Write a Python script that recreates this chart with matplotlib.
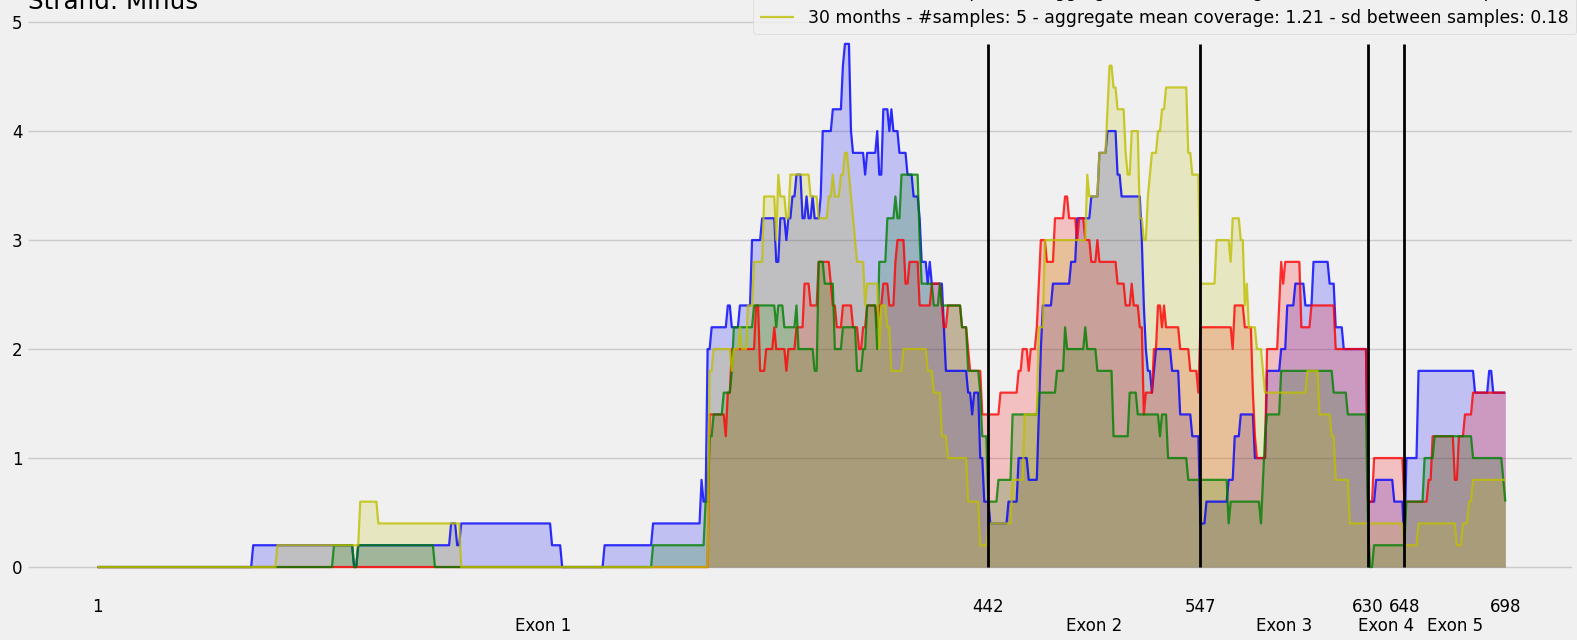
import matplotlib
matplotlib.use('Agg')
import matplotlib.pyplot as plt

# ---------------- data (coverage runs: start position -> mean coverage) -------------
last_pos = 698

blue_start = [1, 78, 128, 130, 176, 179, 181, 226, 231, 252, 276, 300, 301, 303, 305, 313, 315, 319, 325, 330,
              337, 339, 342, 343, 345, 347, 350, 352, 353, 355, 356, 359, 360, 365, 370, 371, 374, 375, 381, 382,
              387, 388, 390, 393, 394, 395, 398, 402, 405, 408, 409, 412, 413, 414, 420, 421, 432, 434, 435, 438,
              440, 443, 452, 457, 462, 467, 468, 469, 474, 483, 486, 493, 497, 501, 506, 508, 518, 519, 520, 521,
              523, 524, 525, 533, 537, 543, 547, 550, 561, 564, 567, 574, 580, 587, 590, 594, 599, 603, 611, 614,
              618, 630, 634, 643, 648, 649, 655, 683, 690, 692]
blue_cov = [0, 0.2, 0, 0.2, 0.4, 0.2, 0.4, 0.2, 0, 0.2, 0.4, 0.8, 0.6, 2.0, 2.2, 2.4, 2.2, 2.4, 3.0, 3.2,
            2.8, 3.2, 3.0, 3.2, 3.4, 3.6, 3.2, 3.4, 3.2, 3.4, 3.2, 3.4, 4.0, 4.2, 4.6, 4.8, 4.0, 3.8, 3.6, 3.8,
            4.0, 3.6, 4.2, 4.0, 4.2, 4.0, 3.8, 3.6, 3.4, 3.2, 2.8, 2.6, 2.8, 2.6, 2.2, 1.8, 1.6, 1.4, 1.6, 1.0,
            0.6, 0.4, 0.6, 1.0, 0.8, 1.4, 2.0, 2.4, 2.6, 2.8, 3.2, 3.4, 3.8, 4.0, 3.6, 3.4, 3.0, 2.4, 2.0, 1.8,
            1.6, 1.8, 2.0, 1.8, 1.4, 1.2, 0.4, 0.6, 0.8, 1.2, 1.4, 1.0, 1.8, 2.0, 2.4, 2.6, 2.4, 2.8, 2.6, 2.2,
            2.0, 0.6, 0.8, 0.6, 0.2, 1.0, 1.8, 1.6, 1.8, 1.6]

red_start = [1, 304, 312, 313, 315, 327, 329, 332, 336, 337, 342, 343, 347, 351, 354, 358, 364, 365, 367, 370,
             375, 378, 380, 382, 387, 388, 390, 393, 396, 397, 401, 403, 408, 414, 419, 420, 422, 429, 432, 433,
             439, 448, 457, 459, 462, 463, 466, 467, 468, 471, 475, 480, 482, 486, 487, 490, 493, 496, 497, 506,
             510, 513, 514, 517, 519, 520, 524, 526, 528, 529, 530, 537, 542, 546, 547, 563, 564, 569, 573, 574,
             575, 580, 586, 587, 588, 589, 597, 602, 614, 630, 633, 648, 660, 662, 673, 675, 678, 682]
red_cov = [0, 1.4, 1.2, 1.6, 2.0, 2.4, 1.8, 2.0, 2.2, 2.0, 1.8, 2.0, 2.2, 2.6, 2.4, 2.8, 2.6, 2.4, 2.2, 2.4,
           2.2, 2.0, 2.2, 2.4, 2.2, 2.4, 2.6, 2.4, 2.8, 3.0, 2.6, 2.8, 2.4, 2.6, 2.4, 2.2, 2.4, 2.2, 2.0, 1.8,
           1.4, 1.6, 1.8, 2.0, 1.8, 2.0, 2.2, 2.6, 3.0, 2.8, 3.2, 3.4, 3.2, 3.0, 3.2, 3.0, 2.8, 3.0, 2.8, 2.6,
           2.4, 2.6, 2.4, 2.2, 1.4, 1.6, 2.0, 2.4, 2.2, 2.4, 2.2, 2.0, 1.8, 1.6, 2.2, 2.0, 2.4, 2.2, 1.6, 1.2,
           1.0, 2.0, 2.4, 2.8, 2.6, 2.8, 2.2, 2.4, 2.0, 0.6, 1.0, 0.6, 0.8, 1.2, 0.8, 1.2, 1.4, 1.6]

green_start = [1, 118, 128, 130, 168, 276, 302, 304, 306, 311, 315, 316, 326, 337, 338, 341, 347, 348, 356, 358,
               361, 366, 370, 377, 380, 382, 387, 388, 392, 396, 397, 399, 408, 409, 415, 418, 419, 429, 432, 438,
               439, 442, 447, 454, 467, 476, 480, 481, 490, 491, 496, 504, 512, 516, 527, 528, 531, 541, 561, 562,
               577, 578, 579, 580, 587, 613, 620, 630, 631, 633, 649, 658, 663, 682, 697, 698]
green_cov = [0, 0.2, 0, 0.2, 0, 0.2, 0.6, 1.2, 1.4, 1.6, 1.8, 2.2, 2.4, 2.2, 2.4, 2.2, 2.4, 2.0, 1.8, 2.8,
             2.6, 2.0, 2.2, 1.8, 2.0, 2.4, 2.0, 2.8, 3.2, 3.4, 3.2, 3.6, 3.0, 2.6, 2.4, 2.6, 2.4, 2.2, 1.8, 1.6,
             1.2, 0.6, 0.8, 1.4, 1.6, 1.8, 2.2, 2.0, 2.2, 2.0, 1.8, 1.2, 1.6, 1.4, 1.2, 1.4, 1.0, 0.8, 0.4, 0.6,
             0.4, 0.8, 1.2, 1.4, 1.8, 1.6, 1.4, 0.4, 0.0, 0.2, 0.6, 1.0, 1.2, 1.0, 0.8, 0.6]

yellow_start = [1, 90, 131, 140, 181, 304, 306, 315, 316, 319, 320, 323, 326, 331, 337, 338, 339, 342, 344, 354,
                358, 363, 365, 366, 369, 371, 373, 374, 375, 376, 377, 381, 382, 388, 389, 392, 394, 400, 412, 415,
                419, 422, 432, 438, 442, 454, 460, 467, 470, 491, 492, 497, 501, 502, 504, 506, 510, 511, 513, 517,
                519, 521, 522, 523, 526, 528, 530, 541, 543, 547, 555, 562, 563, 567, 569, 570, 571, 575, 578, 579,
                600, 606, 612, 614, 621, 648, 655, 674, 677, 680, 682]
yellow_cov = [0, 0.2, 0.6, 0.4, 0, 1.8, 2.0, 1.8, 2.0, 2.2, 2.0, 2.4, 2.8, 3.4, 3.0, 3.6, 3.4, 3.2, 3.6, 3.4,
              3.2, 3.4, 3.6, 3.4, 3.6, 3.8, 3.6, 3.4, 3.2, 3.0, 2.8, 2.4, 2.6, 2.0, 2.4, 2.2, 1.8, 2.0, 1.8, 1.6,
              1.2, 1.0, 0.6, 0.2, 0.4, 0.8, 1.4, 2.2, 3.0, 3.6, 3.4, 3.8, 4.2, 4.6, 4.4, 4.2, 3.8, 3.6, 4.0, 3.2,
              3.0, 3.4, 3.6, 3.8, 4.0, 4.2, 4.4, 3.8, 3.6, 2.6, 3.0, 2.8, 3.2, 3.0, 2.4, 2.6, 2.2, 2.0, 1.8, 1.6,
              1.8, 1.4, 1.2, 0.8, 0.4, 0.2, 0.4, 0.2, 0.4, 0.6, 0.8]

series_labels = [
    "3 months - #samples: 5 - aggregate mean coverage: 1.32 - sd between samples: 0.22",
    "12 months - #samples: 5 - aggregate mean coverage: 1.19 - sd between samples: 0.16",
    "24 months - #samples: 5 - aggregate mean coverage: 1.02 - sd between samples: 0.14",
    "30 months - #samples: 5 - aggregate mean coverage: 1.21 - sd between samples: 0.18",
]
series_colors = ['b', 'r', 'g', 'y']

exon_bounds = [1, 442, 547, 630, 648, 698]
exon_names = ['Exon 1', 'Exon 2', 'Exon 3', 'Exon 4', 'Exon 5']
title_text = 'Strand: Minus'


def runs_to_xy(starts, covs, last):
    if len(starts) != len(covs):
        raise ValueError('length mismatch')
    xs, ys = [], []
    for i, (s, v) in enumerate(zip(starts, covs)):
        e = starts[i + 1] - 1 if i + 1 < len(starts) else last
        xs += [s, e]
        ys += [v, v]
    return xs, ys


plt.style.use('fivethirtyeight')
plt.rcParams['font.family'] = ['DejaVu Sans']

W, H = 1577, 640
fig = plt.figure(figsize=(W / 100, H / 100), dpi=100, facecolor='#f0f0f0')
ax_left, ax_right, ax_top, ax_bottom = 28, 1572, 17.7, 593.2
ax = fig.add_axes([ax_left / W, 1 - ax_bottom / H, (ax_right - ax_left) / W, (ax_bottom - ax_top) / H])
ax.set_facecolor('#f0f0f0')

all_series = [(blue_start, blue_cov), (red_start, red_cov), (green_start, green_cov), (yellow_start, yellow_cov)]
for (st, cv), col, lab in zip(all_series, series_colors, series_labels):
    xs, ys = runs_to_xy(st, cv, last_pos)
    ax.plot(xs, ys, color=col, lw=1.6, alpha=0.8, label=lab)
    ax.fill_between(xs, ys, 0, color=col, alpha=0.2, lw=0)

ymax = max(max(cv) for _, cv in all_series)
ax.vlines(exon_bounds[1:-1], 0, ymax, colors='black', lw=2, zorder=3)

ax.set_xlim(-33.5, 731)
ax.set_ylim(-0.24, 5.04)
ax.set_yticks([0, 1, 2, 3, 4, 5])
ax.set_xticks(exon_bounds)
ax.set_xticklabels([str(b) for b in exon_bounds])
mids = [(exon_bounds[i] + exon_bounds[i + 1]) / 2 for i in range(len(exon_names))]
ax.set_xticks(mids, minor=True)
ax.set_xticklabels(exon_names, minor=True)
ax.tick_params(axis='x', which='major', labelsize=12, pad=3.5, length=0)
ax.tick_params(axis='x', which='minor', labelsize=12, pad=17, length=0)
ax.tick_params(axis='y', labelsize=12, length=0, pad=4)
ax.xaxis.grid(False, which='both')
ax.yaxis.grid(True, color='#cbcbcb', lw=1.0)
for s in ax.spines.values():
    s.set_visible(False)

ax.set_title(title_text, loc='left', fontsize=17.7, pad=6)

leg = ax.legend(loc='lower right', bbox_to_anchor=(1576 / W, (H - 34.2) / H),
                bbox_transform=fig.transFigure, fontsize=12.4, borderaxespad=0,
                frameon=True, fancybox=True)
leg.get_frame().set_facecolor('#f0f0f0')
leg.get_frame().set_edgecolor('#d0d0d0')

fig.savefig('out.png', dpi=100, facecolor='#f0f0f0')
